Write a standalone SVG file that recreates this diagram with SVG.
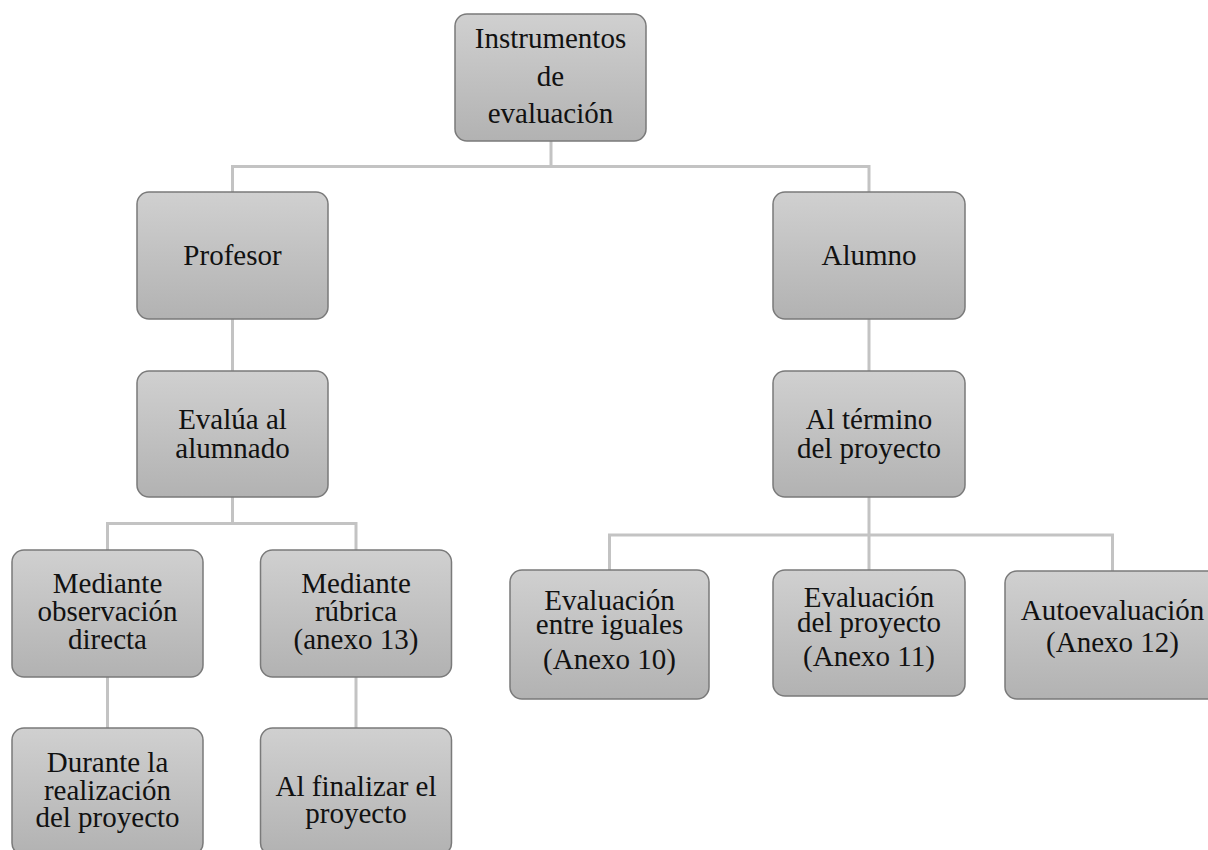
<svg xmlns="http://www.w3.org/2000/svg" width="1208" height="850" viewBox="0 0 1208 850">
<defs>
<linearGradient id="g" x1="0" y1="0" x2="0" y2="1">
<stop offset="0" stop-color="#d0d0d0"/>
<stop offset="1" stop-color="#b2b2b2"/>
</linearGradient>
</defs>
<style>
.box{fill:url(#g);stroke:#7a7a7a;stroke-width:1.5}
.t{font-family:"Liberation Serif","Times New Roman",serif;font-size:29px;fill:#111;text-anchor:middle}
.c{fill:none;stroke:#c3c3c3;stroke-width:3}
</style>
<rect width="1208" height="850" fill="#ffffff"/>
<g id="connectors">
<path class="c" d="M551 141V166.5M232.5 192V166.5H869V192"/>
<path class="c" d="M232.5 319V371"/>
<path class="c" d="M869 319V371"/>
<path class="c" d="M232.5 497V523.5M107.5 550V523.5H356V550"/>
<path class="c" d="M107.5 677V728"/>
<path class="c" d="M356 677V728"/>
<path class="c" d="M869 497V570M609.5 570V535H1112.5V571"/>
</g>
<g id="n-instrumentos">
<rect class="box" x="455" y="14" width="191" height="127" rx="12"/>
<text class="t" x="550.5" y="48">Instrumentos</text>
<text class="t" x="550.5" y="86">de</text>
<text class="t" x="550.5" y="123">evaluación</text>
</g>
<g id="n-profesor">
<rect class="box" x="137" y="192" width="191" height="127" rx="12"/>
<text class="t" x="232.5" y="265">Profesor</text>
</g>
<g id="n-alumno">
<rect class="box" x="773" y="192" width="192" height="127" rx="12"/>
<text class="t" x="869" y="265">Alumno</text>
</g>
<g id="n-evalua">
<rect class="box" x="137" y="371" width="191" height="126" rx="12"/>
<text class="t" x="232.5" y="429">Evalúa al</text>
<text class="t" x="232.5" y="458">alumnado</text>
</g>
<g id="n-termino">
<rect class="box" x="773" y="371" width="192" height="126" rx="12"/>
<text class="t" x="869" y="429">Al término</text>
<text class="t" x="869" y="458">del proyecto</text>
</g>
<g id="n-observacion">
<rect class="box" x="12" y="550" width="191" height="127" rx="12"/>
<text class="t" x="107.5" y="593">Mediante</text>
<text class="t" x="107.5" y="621">observación</text>
<text class="t" x="107.5" y="649">directa</text>
</g>
<g id="n-rubrica">
<rect class="box" x="260.5" y="550" width="191" height="127" rx="12"/>
<text class="t" x="356" y="593">Mediante</text>
<text class="t" x="356" y="621">rúbrica</text>
<text class="t" x="356" y="649">(anexo 13)</text>
</g>
<g id="n-durante">
<rect class="box" x="12" y="728" width="191" height="127" rx="12"/>
<text class="t" x="107.5" y="772">Durante la</text>
<text class="t" x="107.5" y="800">realización</text>
<text class="t" x="107.5" y="827">del proyecto</text>
</g>
<g id="n-finalizar">
<rect class="box" x="260.5" y="728" width="191" height="127" rx="12"/>
<text class="t" x="356" y="796">Al finalizar el</text>
<text class="t" x="356" y="823">proyecto</text>
</g>
<g id="n-iguales">
<rect class="box" x="510" y="570" width="199" height="129" rx="12"/>
<text class="t" x="609.5" y="610">Evaluación</text>
<text class="t" x="609.5" y="634">entre iguales</text>
<text class="t" x="609.5" y="669">(Anexo 10)</text>
</g>
<g id="n-proyecto">
<rect class="box" x="773" y="570" width="192" height="126" rx="12"/>
<text class="t" x="869" y="607">Evaluación</text>
<text class="t" x="869" y="632">del proyecto</text>
<text class="t" x="869" y="666">(Anexo 11)</text>
</g>
<g id="n-auto">
<rect class="box" x="1005" y="571" width="215" height="128" rx="12"/>
<text class="t" x="1112.5" y="620">Autoevaluación</text>
<text class="t" x="1112.5" y="652">(Anexo 12)</text>
</g>
</svg>
